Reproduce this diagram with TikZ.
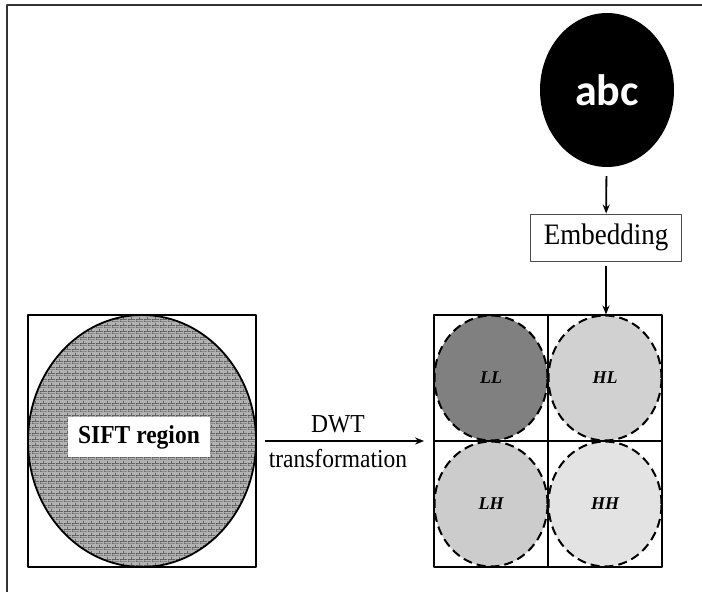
\documentclass[tikz,border=0pt]{standalone}
\usepackage{fontspec}
\setmainfont{Liberation Serif}
\newfontfamily\abcfont{Carlito}
\usetikzlibrary{shapes.geometric,patterns,positioning,arrows.meta}
% small brick texture for the SIFT region
\pgfdeclarepatternformonly{minibricks}{\pgfpointorigin}{\pgfqpoint{8pt}{6pt}}{\pgfqpoint{8pt}{6pt}}{%
  \pgfsetlinewidth{0.7pt}
  \pgfpathmoveto{\pgfqpoint{0pt}{0pt}}\pgfpathlineto{\pgfqpoint{8pt}{0pt}}
  \pgfpathmoveto{\pgfqpoint{0pt}{3pt}}\pgfpathlineto{\pgfqpoint{8pt}{3pt}}
  \pgfpathmoveto{\pgfqpoint{0pt}{0pt}}\pgfpathlineto{\pgfqpoint{0pt}{3pt}}
  \pgfpathmoveto{\pgfqpoint{4pt}{3pt}}\pgfpathlineto{\pgfqpoint{4pt}{6pt}}
  \pgfusepath{stroke}}
\begin{document}
\begin{tikzpicture}[>={Stealth[length=9pt,width=7pt]},x=1pt,y=-1pt,line join=round,
	stretch/.style={yscale=1.1},
	bigbox/.style={draw,line width=1.8pt,minimum width=228pt,minimum height=252pt,inner sep=0pt},
	band/.style={ellipse,draw,dash pattern=on 9pt off 5pt,line width=2pt,minimum width=113pt,minimum height=125pt,inner sep=0pt,font=\bfseries\itshape\fontsize{18}{20}\selectfont},
	lbl/.style={font=\fontsize{23.5}{26}\selectfont,inner sep=0pt},
	flow/.style={->,line width=1.8pt}]
	\useasboundingbox (0,0) rectangle (702,592);
	\draw[line width=1.4pt,black!80] (7,592) |- (702,5);
	% SIFT region
	\node[bigbox] (siftbox) at (142,441) {};
	\node[ellipse,draw,line width=1.8pt,minimum width=228pt,minimum height=252pt,inner sep=0pt,
		preaction={fill=black!30},pattern=minibricks,pattern color=black!75] (sift) at (142,441) {};
	\node[fill=white,minimum width=142pt,minimum height=36pt,stretch,
		font=\bfseries\fontsize{23.5}{26}\selectfont] (siftlabel) at (139,437) {SIFT region};
	% DWT sub-bands
	\foreach \n/\px/\py/\c in {LL/491/378/50,HL/605/378/18,LH/491/504/20,HH/605/504/11}
		\node[band,fill=black!\c] (\n) at (\px,\py) {\n};
	\node[bigbox] (grid) at (548,441) {};
	\draw[line width=1.8pt] (grid.north) -- (grid.south) (grid.west) -- (grid.east);
	% watermark
	\node[ellipse,fill=black,text=white,minimum width=134pt,minimum height=154pt,
		font=\abcfont\bfseries\fontsize{44}{46}\selectfont] (abc) at (607,90) {abc};
	\node[draw=black!70,line width=0.8pt,minimum width=151pt,minimum height=42.7pt,stretch,
		font=\fontsize{27}{30}\selectfont] (embed) at (606,237.5) {Embedding};
	\draw[flow,shorten <=9pt] (abc) -- (embed);
	\draw[flow,shorten <=5pt] (embed) -- (embed.south |- HL.north);
	\draw[flow,shorten <=8pt,shorten >=9pt] (siftbox.east) -- (grid.west)
		node[pos=.46,anchor=base,yshift=9pt,stretch,lbl] {DWT}
		node[pos=.46,anchor=base,yshift=-26pt,stretch,lbl] {transformation};
\end{tikzpicture}
\end{document}
